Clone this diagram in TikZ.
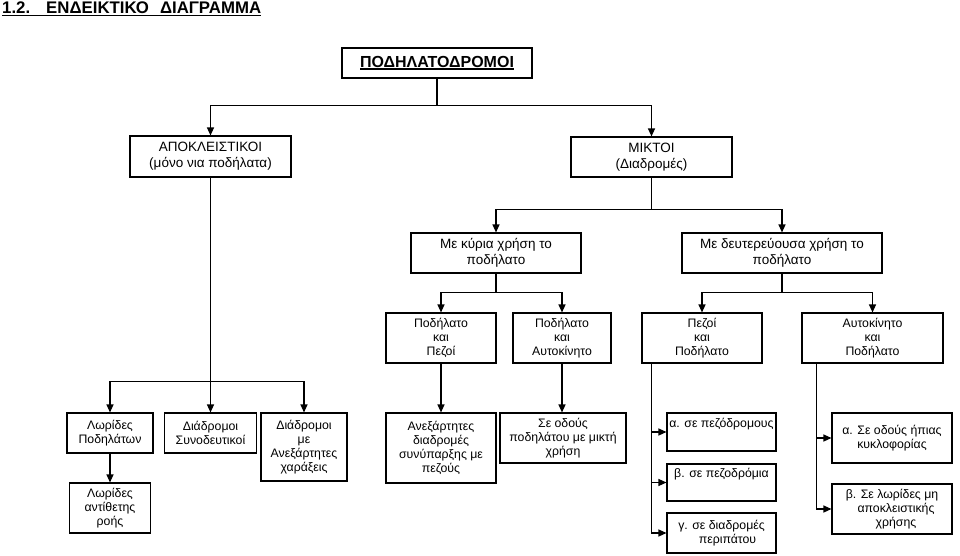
\documentclass[tikz,border=0pt]{standalone}
\usepackage{fontspec}
\setmainfont{Liberation Sans}
\usetikzlibrary{arrows.meta}
\newcommand\myul[2][1pt]{\setbox0\hbox{#2}\rlap{\rule[-2.2pt]{\wd0}{#1}}\box0}
\begin{document}
\begin{tikzpicture}[x=1pt,y=-1pt,
  box/.style={draw=black, line width=1.1pt, align=center, inner sep=0pt, text=black,
    font=\fontsize{12.3}{14.2}\selectfont},
  bigbox/.style={box, font=\fontsize{13.5}{15.7}\selectfont},
  sz/.style 2 args={minimum width=#1pt, minimum height=#2pt},
  conn/.style={line width=1.2pt, draw=black},
  arr/.style={conn, -{Triangle[length=8pt,width=7pt]}}
]
\useasboundingbox (0,0) rectangle (960,556);

% title
\node[anchor=base west, inner sep=0pt, font=\bfseries\fontsize{16.8}{18}\selectfont] (title) at (2,14)
  {\myul[1.4pt]{1.2.\hspace{16pt}ΕΝΔΕΙΚΤΙΚΟ\hspace{11pt}ΔΙΑΓΡΑΜΜΑ}};

% level 0
\node[box, sz={190}{30}, font=\bfseries\fontsize{16}{18}\selectfont] (top) at (437,63) {\myul[1.2pt]{ΠΟΔΗΛΑΤΟΔΡΟΜΟΙ}};

% level 1
\node[bigbox, sz={161}{41}] (apokl) at (210.5,156.5) {ΑΠΟΚΛΕΙΣΤΙΚΟΙ\\(μόνο νια ποδήλατα)};
\node[bigbox, sz={161}{40}] (mikt) at (651.5,157) {ΜΙΚΤΟΙ\\(Διαδρομές)};

% level 2
\node[bigbox, sz={170}{40}] (kyria) at (496,253) {Με κύρια χρήση το\\ποδήλατο};
\node[bigbox, sz={200}{40}] (deut) at (782,253) {Με δευτερεύουσα χρήση το\\ποδήλατο};

% level 3
\node[box, sz={110}{50}] (r4a) at (441,338) {Ποδήλατο\\και\\Πεζοί};
\node[box, sz={98}{50}] (r4b) at (562,338) {Ποδήλατο\\και\\Αυτοκίνητο};
\node[box, sz={120}{50}] (r4c) at (702,338) {Πεζοί\\και\\Ποδήλατο};
\node[box, sz={141}{50}] (r4d) at (872.5,338) {Αυτοκίνητο\\και\\Ποδήλατο};

% bottom row
\node[box, sz={86}{40}] (b1) at (110,433) {Λωρίδες\\Ποδηλάτων};
\node[box, sz={81}{50}] (b1b) at (110,508) {Λωρίδες\\αντίθετης\\ροής};
\node[box, sz={92}{40}] (b2) at (210.5,433) {Διάδρομοι\\Συνοδευτικοί};
\node[box, sz={86}{68}] (b3) at (304,447) {Διάδρομοι\\με\\Ανεξάρτητες\\χαράξεις};
\node[box, sz={110}{70}] (b4) at (441,448) {Ανεξάρτητες\\διαδρομές\\συνύπαρξης με\\πεζούς};
\node[box, sz={126}{50}] (b5) at (563,438) {Σε οδούς\\ποδηλάτου με μικτή\\χρήση};
\node[box, sz={109}{38}] (a1) at (721.5,432) {α. σε πεζόδρομους\\\strut};
\node[box, sz={109}{37}] (be1) at (721.5,482.5) {β. σε πεζοδρόμια\\\strut};
\node[box, sz={109}{40}] (g1) at (721.5,533) {γ. σε διαδρομές\\\hspace{12pt}περιπάτου};
\node[box, sz={120}{50}] (a2) at (892,438) {α. Σε οδούς ήπιας\\κυκλοφορίας};
\node[box, sz={120}{50}] (be2) at (892,509) {β. Σε λωρίδες μη\\\hspace{8pt}αποκλειστικής\\\hspace{8pt}χρήσης};

% connectors
\draw[arr] (top.south) -- ++(0,27) -| (apokl.north);
\draw[arr] (top.south) -- ++(0,27) -| (mikt.north);

\draw[arr] (mikt.south) -- ++(0,32) -| (kyria.north);
\draw[arr] (mikt.south) -- ++(0,32) -| (deut.north);

\draw[arr] (kyria.south) -- ++(0,19) -| (r4a.north);
\draw[arr] (kyria.south) -- ++(0,19) -| (r4b.north);
\draw[arr] (deut.south) -- ++(0,19) -| (r4c.north);
\draw[arr] (deut.south) -- ++(0,19) -| (r4d.north);

\draw[arr] (apokl.south) -- ++(0,204) -| (b1.north);
\draw[arr] (apokl.south) -- ++(0,204) -| (b2.north);
\draw[arr] (apokl.south) -- ++(0,204) -| (b3.north);
\draw[arr] (b1.south) -- (b1.south |- b1b.north);

\draw[arr] (r4a.south) -- (r4a.south |- b4.north);
\draw[arr] (r4b.south) -- (r4b.south |- b5.north);

\draw[arr] ([xshift=10pt]r4c.south west) |- (a1.west);
\draw[arr] ([xshift=10pt]r4c.south west) |- (be1.west);
\draw[arr] ([xshift=10pt]r4c.south west) |- (g1.west);

\draw[arr] ([xshift=15pt]r4d.south west) |- (a2.west);
\draw[arr] ([xshift=15pt]r4d.south west) |- (be2.west);
\end{tikzpicture}
\end{document}
